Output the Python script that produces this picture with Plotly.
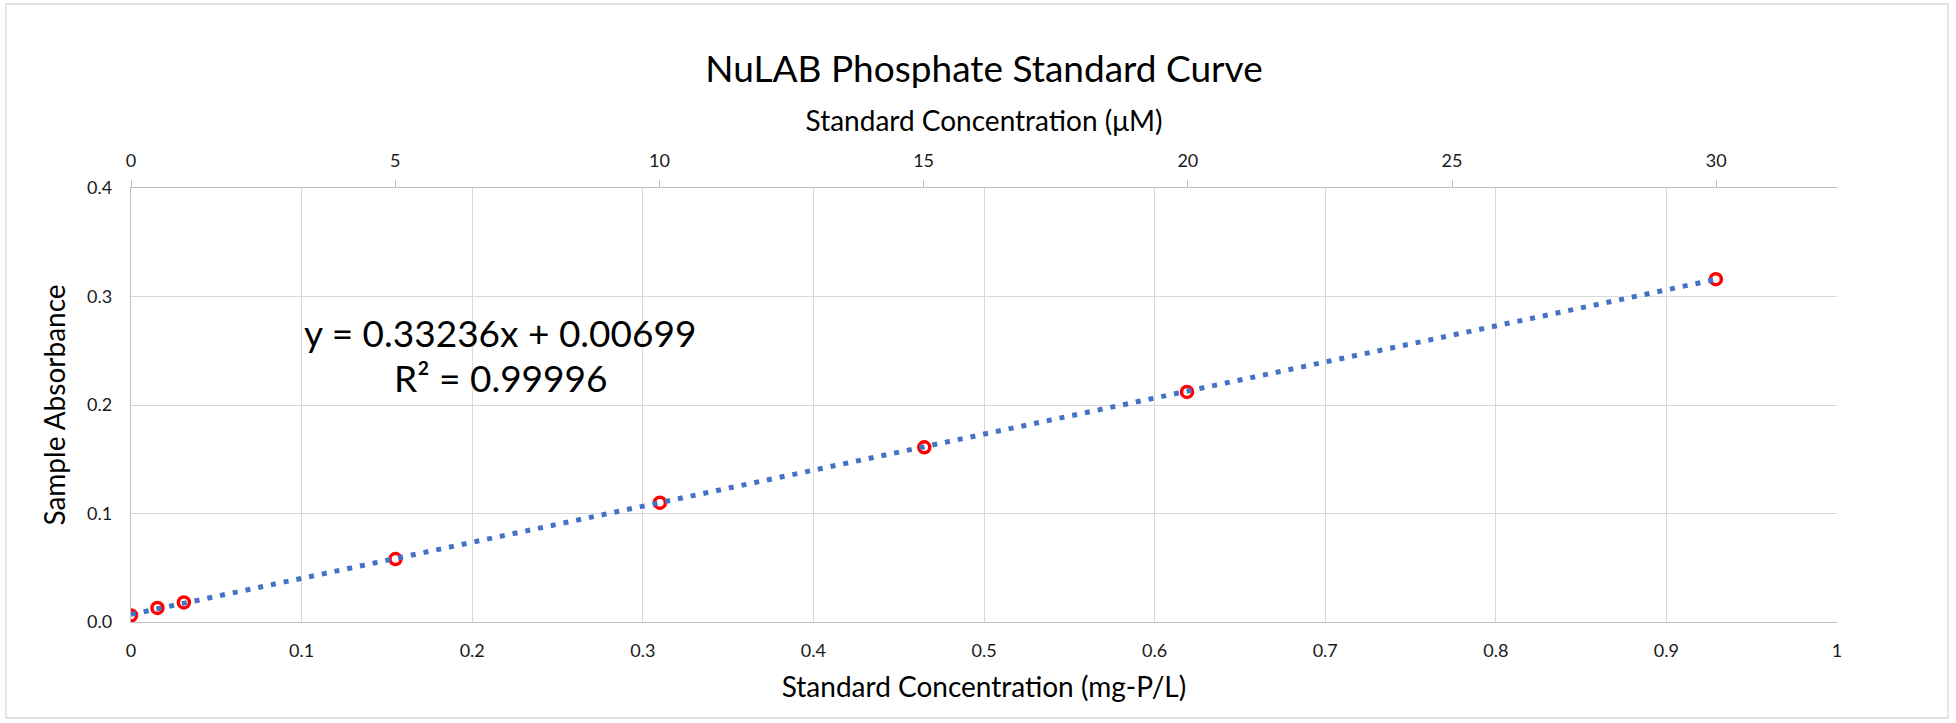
import plotly.graph_objects as go

# ---- data ----
conc_uM = [0, 0.5, 1, 5, 10, 15, 20, 30]
conc_mgPL = [0, 0.0155, 0.031, 0.155, 0.31, 0.465, 0.619, 0.929]
absorbance = [0.006, 0.013, 0.018, 0.058, 0.110, 0.161, 0.212, 0.316]

slope = 0.33236
intercept = 0.00699
r_squared = 0.99996

x_ticks = [0, 0.1, 0.2, 0.3, 0.4, 0.5, 0.6, 0.7, 0.8, 0.9, 1]
x_ticklabels = ["0", "0.1", "0.2", "0.3", "0.4", "0.5", "0.6", "0.7", "0.8", "0.9", "1"]
y_ticks = [0.0, 0.1, 0.2, 0.3, 0.4]
y_ticklabels = ["0.0", "0.1", "0.2", "0.3", "0.4"]
top_ticks = [0, 5, 10, 15, 20, 25, 30]
top_ticklabels = ["0", "5", "10", "15", "20", "25", "30"]

P_MOLAR_MASS = 30.974  # g/mol, 1 uM = 0.030974 mg-P/L
top_max = 1000.0 / P_MOLAR_MASS  # uM equivalent of 1 mg-P/L

FONT = "Lato"
GRID = "#D9D9D9"
AXIS = "#BFBFBF"

fig = go.Figure()

# invisible trace for the top (uM) axis
fig.add_trace(go.Scatter(x=conc_uM, y=absorbance, xaxis="x2", yaxis="y",
                         mode="markers", marker=dict(opacity=0),
                         hoverinfo="skip", showlegend=False))

# measured standards
fig.add_trace(go.Scatter(x=conc_mgPL, y=absorbance, mode="markers",
                         marker=dict(symbol="circle", size=11, color="white",
                                     line=dict(color="#FF0000", width=3.5)),
                         showlegend=False))

# linear trendline over the data range
x_fit = [min(conc_mgPL), max(conc_mgPL)]
y_fit = [slope * v + intercept for v in x_fit]
fig.add_trace(go.Scatter(x=x_fit, y=y_fit, mode="lines",
                         line=dict(color="#4472C4", width=5, dash="5px,8px"),
                         showlegend=False))

eq_line1 = "y = %.5fx + %.5f" % (slope, intercept)
eq_line2 = "R\u00b2 = %.5f" % r_squared

fig.update_layout(
    width=1956, height=723,
    margin=dict(l=131, r=119, t=188, b=101),
    paper_bgcolor="white", plot_bgcolor="white",
    font=dict(family=FONT, color="#1a1a1a"),
    title=dict(text="NuLAB Phosphate Standard Curve", x=0.5, xref="paper",
               y=1 - 69 / 723, yref="container", yanchor="middle", xanchor="center",
               font=dict(family=FONT, size=37, color="#000000")),
    xaxis=dict(range=[0, 1], tickvals=x_ticks, ticktext=x_ticklabels,
               showgrid=True, gridcolor=GRID, gridwidth=1.3,
               showline=True, linecolor=AXIS, linewidth=1.3,
               zeroline=False, ticks="", ticklabelstandoff=12,
               tickfont=dict(size=18, color="#1a1a1a"),
               title=dict(text="Standard Concentration (mg-P/L)", standoff=17,
                          font=dict(size=28, color="#000000"))),
    xaxis2=dict(range=[0, top_max], overlaying="x", side="top",
                tickvals=top_ticks, ticktext=top_ticklabels,
                showgrid=False, showline=True, linecolor=AXIS, linewidth=1.3,
                zeroline=False, ticks="outside", ticklen=7, tickcolor=AXIS,
                tickwidth=1.3, ticklabelstandoff=6,
                tickfont=dict(size=18, color="#1a1a1a"),
                title=dict(text="Standard Concentration (\u03bcM)", standoff=8,
                           font=dict(size=28, color="#000000"))),
    yaxis=dict(range=[0, 0.4], tickvals=y_ticks, ticktext=y_ticklabels,
               showgrid=True, gridcolor=GRID, gridwidth=1.3,
               showline=True, linecolor=AXIS, linewidth=1.3,
               zeroline=False, ticks="", ticklabelstandoff=14,
               tickfont=dict(size=18, color="#1a1a1a"),
               title=dict(text="Sample Absorbance", standoff=13,
                          font=dict(size=28, color="#000000"))),
    annotations=[
        dict(text=eq_line1, x=0.2163, y=0.2664, xref="x", yref="y",
             xanchor="center", yanchor="middle", showarrow=False,
             font=dict(family=FONT, size=37, color="#000000")),
        dict(text=eq_line2, x=0.2163, y=0.2258, xref="x", yref="y",
             xanchor="center", yanchor="middle", showarrow=False,
             font=dict(family=FONT, size=37, color="#000000")),
    ],
    shapes=[dict(type="rect", xref="paper", yref="paper",
                 x0=-0.0733, x1=1.0651, y0=-0.2212, y1=1.424,
                 line=dict(color=GRID, width=1.3), fillcolor="rgba(0,0,0,0)",
                 layer="below")],
)

fig.write_html("out.html", config={"displayModeBar": False},
               post_script="document.body.style.margin='0';document.body.style.overflow='hidden';")
